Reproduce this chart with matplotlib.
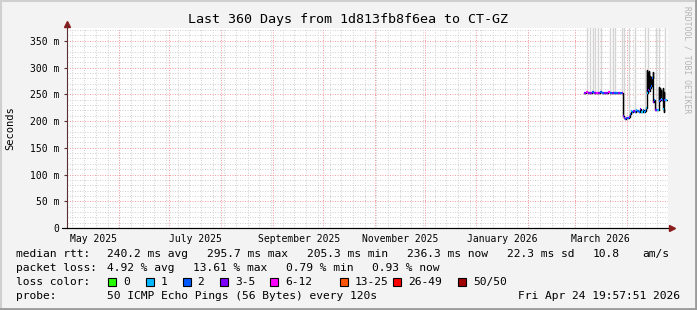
import numpy as np
import pandas as pd
import matplotlib
matplotlib.use('Agg')
import matplotlib.pyplot as plt
import matplotlib.dates as mdates
from matplotlib.patches import Rectangle
from matplotlib.lines import Line2D

# ---------------------------------------------------------------------------
# data (days counted from the start of the 360 day window)
win_start = np.datetime64('2025-04-30T17:30')
win_days = 360

median_day = [309.6, 310.8, 312.0, 313.2, 314.4, 315.6, 316.8, 318.0, 319.2, 320.4,
              321.6, 322.8, 324.0, 325.2, 326.4, 327.6, 328.8, 330.0, 331.2, 332.4,
              332.8, 333.4, 334.0, 334.8, 335.6, 336.4, 337.0, 337.6, 338.4, 339.2,
              340.0, 340.8, 341.6, 342.4, 343.2, 344.0, 344.8, 345.6, 346.4, 347.0,
              347.4, 347.7, 348.0, 348.3, 348.6, 348.9, 349.2, 349.5, 349.8, 350.1,
              350.4, 350.8, 351.1, 351.6, 352.4, 353.2, 354.4, 354.7, 355.0, 355.3,
              355.6, 355.8, 356.3, 356.8, 357.1, 357.4, 357.6, 357.8, 358.4]
median_end = 359.2
median_ms = [253, 254, 253, 252, 254, 253, 253, 252, 254, 253,
             252, 253, 254, 252, 253, 253, 252, 253, 252, 253,
             209, 206, 204, 205, 205, 207, 213, 218, 216, 219,
             217, 221, 218, 216, 222, 217, 220, 216, 219, 224,
             296, 252, 290, 258, 294, 256, 285, 262, 283, 265,
             280, 292, 236, 240, 220, 221, 264, 238, 262, 240,
             258, 242, 240, 261, 222, 217, 255, 239, 240]
# loss bucket index per sample (see loss_labels)
median_loss = [3, 4, 3, 3, 2, 3, 4, 3, 2, 2,
               3, 3, 4, 2, 3, 2, 2, 3, 2, 3,
               3, 3, 2, 3, 2, 3, 2, 1, 2, 3,
               2, 1, 2, 2, 3, 1, 2, 1, 2, 1,
               2, 1, 2, 3, 1, 2, 3, 2, 1, 2,
               2, 1, 3, 2, 3, 1, 1, 2, 2, 3,
               2, 1, 2, 2, 1, 3, 2, 3, 1]

# smoke (ping spread) going off the top of the scale
smoke_day = [311.4, 313.2, 314.8, 316.2, 318.2, 319.8, 325.2, 326.8, 328.4, 332.2,
             333.6, 336.6, 340.2, 346.2, 348.0, 352.8, 354.6, 358.2]
smoke_top_ms = 420

loss_labels = ['0', '1', '2', '3-5', '6-12', '13-25', '26-49', '50/50']
loss_colors = ['#26ff00', '#00b8ff', '#0059ff', '#7e00ff', '#ff00ff', '#ff5500', '#ff0000', '#a10000']

month_labels = ['May 2025', 'July 2025', 'September 2025', 'November 2025', 'January 2026', 'March 2026']
y_ticks = [0, 50, 100, 150, 200, 250, 300, 350]
y_top = 374

title = 'Last 360 Days from 1d813fb8f6ea to CT-GZ'
rtt_stats = ['240.2 ms avg', '295.7 ms max', '205.3 ms min', '236.3 ms now', '22.3 ms sd', '10.8', 'am/s']
loss_stats = ['4.92 % avg', '13.61 % max', '0.79 % min', '0.93 % now']
probe_text = '50 ICMP Echo Pings (56 Bytes) every 120s'
stamp = 'Fri Apr 24 19:57:51 2026'

# ---------------------------------------------------------------------------
W, H = 697, 310
MONO = 'DejaVu Sans Mono'
fig = plt.figure(figsize=(W / 100, H / 100), dpi=100, facecolor='#f3f3f3')


def fx(x):
    return x / W


def fy(y):
    return 1 - y / H


ax = fig.add_axes([fx(67), fy(228), 601 / W, 200 / H])
ax.set_facecolor('white')

t0 = mdates.date2num(win_start)
ax.set_xlim(t0, t0 + win_days)
ax.set_ylim(0, y_top)

# grid
weeks = mdates.date2num(pd.date_range('2025-05-04', periods=52, freq='7D').values)
months = mdates.date2num(pd.date_range('2025-05-01', periods=12, freq='MS').values)
for v in np.arange(0, y_top, 10):
    if v % 50:
        ax.axhline(v, color='#d2d2d2', lw=0.72, ls=(0, (1, 1.5)), zorder=1)
for w in weeks:
    ax.axvline(w, color='#d2d2d2', lw=0.72, ls=(0, (1, 1.5)), zorder=1)
for v in y_ticks[1:]:
    ax.axhline(v, color='#f4a0a0', lw=0.72, ls=(0, (1, 1.5)), zorder=2)
for m in months:
    ax.axvline(m, color='#f4a0a0', lw=0.72, ls=(0, (1, 1.5)), zorder=2)

# smoke
md = t0 + np.array(median_day)
mv = np.array(median_ms)
sd = t0 + np.array(smoke_day)
idx = np.searchsorted(md, sd, side='right') - 1
ax.vlines(sd, mv[idx], smoke_top_ms, color='#d4d4d4', lw=1.0, zorder=3)

# median: black line then loss coloured horizontal pieces
xs = np.append(md, t0 + median_end)
ax.step(xs, np.append(mv, mv[-1]), where='post', color='black', lw=1.0, zorder=4)
for i in range(len(md)):
    ax.hlines(mv[i], xs[i], xs[i + 1], color=loss_colors[median_loss[i]], lw=1.6, zorder=5)

# axes look
for s in ['top', 'right']:
    ax.spines[s].set_visible(False)
ax.spines['left'].set_color('#5a3030')
ax.spines['bottom'].set_color('black')
ax.spines['left'].set_zorder(6)
ax.spines['bottom'].set_zorder(6)

ax.set_yticks(y_ticks)
ax.set_yticklabels(['0'] + [f'{v} m' for v in y_ticks[1:]])
label_pos = mdates.date2num(pd.date_range('2025-05-01', periods=6, freq='2MS').values) + 15.5
ax.set_xticks(label_pos)
ax.set_xticklabels(month_labels)
ax.tick_params(axis='x', length=0, pad=4, labelsize=7)
ax.tick_params(axis='y', length=2, pad=3.5, labelsize=7, color='#5a3030')
for lab in ax.get_xticklabels() + ax.get_yticklabels():
    lab.set_family(MONO)

# arrows
fig.add_artist(Line2D([fx(62), fx(668)], [fy(228), fy(228)], color='black', lw=0.8))
fig.add_artist(Line2D([fx(672)], [fy(228)], marker='>', ms=4, color='#8b1c1c', mec='#8b1c1c'))
fig.add_artist(Line2D([fx(67)], [fy(24)], marker='^', ms=4, color='#8b1c1c', mec='#8b1c1c'))
fig.add_artist(Line2D([fx(67), fx(67)], [fy(28), fy(24)], color='#5a3030', lw=0.8))

# frame
fig.add_artist(Line2D([0, 1], [fy(0.5), fy(0.5)], color='#cfcfcf', lw=1.5))
fig.add_artist(Line2D([fx(0.5), fx(0.5)], [0, 1], color='#cfcfcf', lw=1.5))
fig.add_artist(Line2D([0, 1], [fy(H - 1), fy(H - 1)], color='#9a9a9a', lw=2))
fig.add_artist(Line2D([fx(W - 1), fx(W - 1)], [0, 1], color='#9a9a9a', lw=2))

# texts
fig.text(fx(348), fy(19), title, family=MONO, fontsize=9.6, ha='center', va='center')
fig.text(fx(10), fy(128), 'Seconds', family=MONO, fontsize=7.5, rotation=90, ha='center', va='center')
fig.text(fx(687), fy(60), 'RRDTOOL / TOBI OETIKER', family=MONO, fontsize=5.8, rotation=270,
         ha='center', va='center', color='#b4b4b4')

fs = 8.1
fig.text(fx(16), fy(254), 'median rtt:', family=MONO, fontsize=fs, va='center')
for x, s in zip([107, 207, 307, 407, 507, 593, 642], rtt_stats):
    fig.text(fx(x), fy(254), s, family=MONO, fontsize=fs, va='center')

fig.text(fx(16), fy(268), 'packet loss:', family=MONO, fontsize=fs, va='center')
for x, s in zip([107, 193, 286, 372], loss_stats):
    fig.text(fx(x), fy(268), s, family=MONO, fontsize=fs, va='center')

fig.text(fx(16), fy(282), 'loss color:', family=MONO, fontsize=fs, va='center')
box_x = [108, 145.5, 182.5, 220, 270, 340, 393, 458]
for x, lab, c in zip(box_x, loss_labels, loss_colors):
    fig.add_artist(Rectangle((fx(x), fy(286)), 8 / W, 8 / H, transform=fig.transFigure,
                             facecolor=c, edgecolor='black', lw=0.8))
    fig.text(fx(x + 15), fy(282), lab, family=MONO, fontsize=fs, va='center')

fig.text(fx(16), fy(296), 'probe:', family=MONO, fontsize=fs, va='center')
fig.text(fx(107), fy(296), probe_text, family=MONO, fontsize=fs, va='center')
fig.text(fx(680), fy(296), stamp, family=MONO, fontsize=fs, va='center', ha='right')

fig.savefig('out.png', dpi=100, facecolor=fig.get_facecolor())
